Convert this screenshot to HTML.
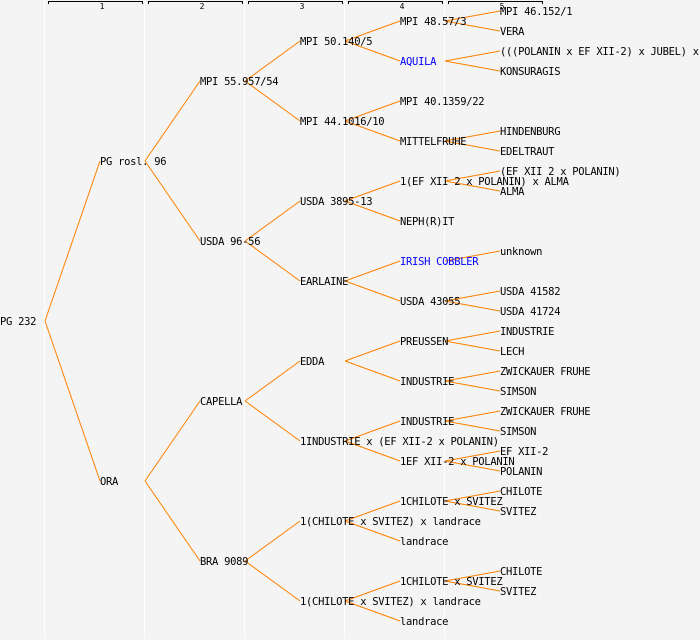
<!DOCTYPE html>
<html><head><meta charset="utf-8"><style>
html,body{margin:0;padding:0;background:#f4f4f4;}
svg{display:block;}
text{font-family:"DejaVu Sans Mono","Liberation Mono",monospace;font-size:10.5px;letter-spacing:-0.3px;fill:#000;}
text.h{font-size:8px;letter-spacing:0;}
.b{fill:#0000ff;}
</style></head><body>
<svg width="700" height="640" xmlns="http://www.w3.org/2000/svg">
<rect width="700" height="640" fill="#f4f4f4"/>
<g stroke="#ffffff" stroke-width="1">
<line x1="44.5" y1="0" x2="44.5" y2="638"/>
<line x1="144.5" y1="0" x2="144.5" y2="638"/>
<line x1="244.5" y1="0" x2="244.5" y2="638"/>
<line x1="344.5" y1="0" x2="344.5" y2="638"/>
<line x1="444.5" y1="0" x2="444.5" y2="638"/>
</g>
<g stroke="#000" stroke-width="1" fill="none">
<path d="M48.5 4V1.5H142.5V4"/>
<path d="M148.5 4V1.5H242.5V4"/>
<path d="M248.5 4V1.5H342.5V4"/>
<path d="M348.5 4V1.5H442.5V4"/>
<path d="M448.5 4V1.5H542.5V4"/>
</g>
<g text-anchor="middle">
<text class="h" x="102" y="9">1</text>
<text class="h" x="202" y="9">2</text>
<text class="h" x="302" y="9">3</text>
<text class="h" x="402" y="9">4</text>
<text class="h" x="502" y="9">5</text>
</g>
<g stroke="#ff8000" stroke-width="1" fill="none">
<path d="M45 321L100 161M45 321L100 481"/>
<path d="M145 161L200 81M145 161L200 241M145 481L200 401M145 481L200 561"/>
<path d="M245 81L300 41M245 81L300 121M245 241L300 201M245 241L300 281M245 401L300 361M245 401L300 441M245 561L300 521M245 561L300 601"/>
<path d="M345 41L400 21M345 41L400 61M345 121L400 101M345 121L400 141M345 201L400 181M345 201L400 221M345 281L400 261M345 281L400 301M345 361L400 341M345 361L400 381M345 441L400 421M345 441L400 461M345 521L400 501M345 521L400 541M345 601L400 581M345 601L400 621"/>
<path d="M445 21L500 11M445 21L500 31M445 61L500 51M445 61L500 71M445 141L500 131M445 141L500 151M445 181L500 171M445 181L500 191M445 261L500 251M445 301L500 291M445 301L500 311M445 341L500 331M445 341L500 351M445 381L500 371M445 381L500 391M445 421L500 411M445 421L500 431M445 461L500 451M445 461L500 471M445 501L500 491M445 501L500 511M445 581L500 571M445 581L500 591"/>
</g>
<text x="0" y="325">PG 232</text>
<text x="100" y="165">PG rosl. 96</text>
<text x="100" y="485">ORA</text>
<text x="200" y="85">MPI 55.957/54</text>
<text x="200" y="245">USDA 96-56</text>
<text x="200" y="405">CAPELLA</text>
<text x="200" y="565">BRA 9089</text>
<text x="300" y="45">MPI 50.140/5</text>
<text x="300" y="125">MPI 44.1016/10</text>
<text x="300" y="205">USDA 3895-13</text>
<text x="300" y="285">EARLAINE</text>
<text x="300" y="365">EDDA</text>
<text x="300" y="445">1INDUSTRIE x (EF XII-2 x POLANIN)</text>
<text x="300" y="525">1(CHILOTE x SVITEZ) x landrace</text>
<text x="300" y="605">1(CHILOTE x SVITEZ) x landrace</text>
<text x="400" y="25">MPI 48.57/3</text>
<text x="400" y="65" class="b">AQUILA</text>
<text x="400" y="105">MPI 40.1359/22</text>
<text x="400" y="145">MITTELFRUHE</text>
<text x="400" y="185">1(EF XII 2 x POLANIN) x ALMA</text>
<text x="400" y="225">NEPH(R)IT</text>
<text x="400" y="265" class="b">IRISH COBBLER</text>
<text x="400" y="305">USDA 43055</text>
<text x="400" y="345">PREUSSEN</text>
<text x="400" y="385">INDUSTRIE</text>
<text x="400" y="425">INDUSTRIE</text>
<text x="400" y="465">1EF XII-2 x POLANIN</text>
<text x="400" y="505">1CHILOTE x SVITEZ</text>
<text x="400" y="545">landrace</text>
<text x="400" y="585">1CHILOTE x SVITEZ</text>
<text x="400" y="625">landrace</text>
<text x="500" y="15">MPI 46.152/1</text>
<text x="500" y="35">VERA</text>
<text x="500" y="55">(((POLANIN x EF XII-2) x JUBEL) x</text>
<text x="500" y="75">KONSURAGIS</text>
<text x="500" y="135">HINDENBURG</text>
<text x="500" y="155">EDELTRAUT</text>
<text x="500" y="175">(EF XII 2 x POLANIN)</text>
<text x="500" y="195">ALMA</text>
<text x="500" y="255">unknown</text>
<text x="500" y="295">USDA 41582</text>
<text x="500" y="315">USDA 41724</text>
<text x="500" y="335">INDUSTRIE</text>
<text x="500" y="355">LECH</text>
<text x="500" y="375">ZWICKAUER FRUHE</text>
<text x="500" y="395">SIMSON</text>
<text x="500" y="415">ZWICKAUER FRUHE</text>
<text x="500" y="435">SIMSON</text>
<text x="500" y="455">EF XII-2</text>
<text x="500" y="475">POLANIN</text>
<text x="500" y="495">CHILOTE</text>
<text x="500" y="515">SVITEZ</text>
<text x="500" y="575">CHILOTE</text>
<text x="500" y="595">SVITEZ</text>
</svg>
</body></html>
